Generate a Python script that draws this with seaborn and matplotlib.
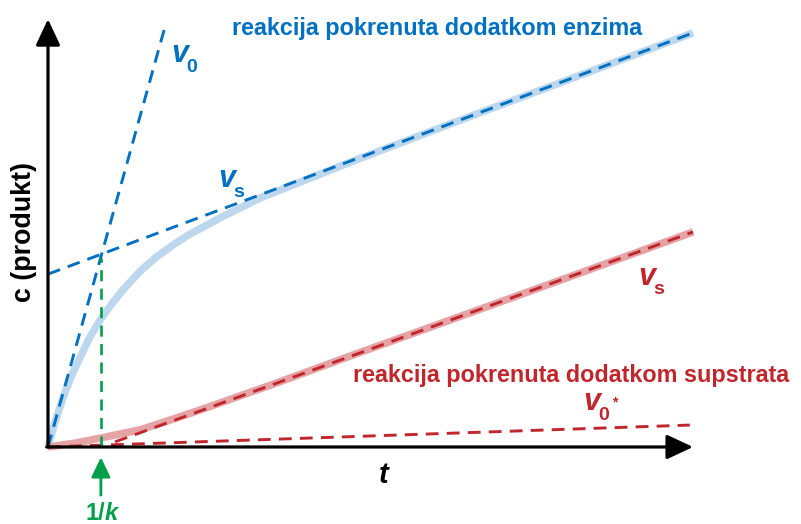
import matplotlib
matplotlib.use("Agg")
import matplotlib.pyplot as plt
import seaborn as sns

sns.set_theme(style="white")
plt.rcParams['font.family'] = ['Liberation Sans', 'DejaVu Sans']

# ---- data (t, c units) ----
blue_t = [0, 0.11, 0.26, 0.37, 0.50, 0.65, 0.82, 0.99, 1.16, 1.43, 1.69, 1.97,
          2.20, 2.71, 3.29, 3.91, 4.68, 6.23, 7.78, 10.0]
blue_c = [0, 0.58, 1.26, 1.67, 2.09, 2.56, 2.98, 3.33, 3.65, 4.09, 4.43, 4.73,
          4.95, 5.36, 5.79, 6.16, 6.62, 7.51, 8.38, 9.63]

red_t = [0, 0.42, 0.82, 1.11, 1.43, 1.74, 1.94, 2.20, 2.47, 2.98, 3.49, 4.02,
         4.84, 6.23, 7.78, 10.0]
red_c = [0, 0.09, 0.21, 0.30, 0.40, 0.55, 0.65, 0.78, 0.92, 1.19, 1.46, 1.75,
         2.20, 2.95, 3.79, 5.00]

blue_v0_t = [0, 1.83]
blue_v0_c = [0, 9.86]
blue_vs_t = [0, 10.0]
blue_vs_c = [4.02, 9.63]
red_vs_t = [1.04, 10.0]
red_vs_c = [0.12, 5.00]
red_v0_t = [0, 9.95]
red_v0_c = [0, 0.51]
inv_k = 0.82
green_c = [0, 4.40]

DBLUE = "#0070C0"
LBLUE = "#BDD7EE"
DRED = "#C0272D"
LRED = "#E6A3A6"
GREEN = "#00A04A"

fig = plt.figure(figsize=(8.01, 5.24), dpi=100)
ax = fig.add_axes([0, 0, 1, 1])
ax.set_xlim(-0.744, 11.674)
ax.set_ylim(-1.791, 10.395)
ax.axis('off')

# light curves
sns.lineplot(x=blue_t, y=blue_c, ax=ax, color=LBLUE, lw=5.4, sort=False,
             estimator=None, solid_capstyle='butt', solid_joinstyle='round', zorder=2)
sns.lineplot(x=red_t, y=red_c, ax=ax, color=LRED, lw=5.4, sort=False,
             estimator=None, solid_capstyle='butt', solid_joinstyle='round', zorder=2)

dash = (0, (4.4, 2.8))
for xs, ys, col in [(blue_v0_t, blue_v0_c, DBLUE), (blue_vs_t, blue_vs_c, DBLUE),
                    (red_vs_t, red_vs_c, DRED), (red_v0_t, red_v0_c, DRED)]:
    sns.lineplot(x=xs, y=ys, ax=ax, color=col, lw=2.1, linestyle=dash,
                 sort=False, estimator=None, zorder=3)

sns.lineplot(x=[inv_k, inv_k], y=green_c, ax=ax, color=GREEN, lw=1.9,
             linestyle=(0, (4.2, 2.8)), sort=False, estimator=None, zorder=3)

# axes arrows
ax.annotate('', xy=(0, 9.95), xytext=(0, 0),
            arrowprops=dict(arrowstyle='-|>,head_length=1.6,head_width=0.75',
                            mutation_scale=10, lw=2.3, color='black',
                            shrinkA=0, shrinkB=0), zorder=5)
ax.annotate('', xy=(10.0, 0), xytext=(-0.02, 0),
            arrowprops=dict(arrowstyle='-|>,head_length=1.6,head_width=0.75',
                            mutation_scale=10, lw=2.3, color='black',
                            shrinkA=0, shrinkB=0), zorder=5)
# green arrow at 1/k
ax.annotate('', xy=(inv_k, -0.24), xytext=(inv_k, -1.12),
            arrowprops=dict(arrowstyle='-|>,head_length=1.2,head_width=0.58',
                            mutation_scale=10, lw=2.0, color=GREEN,
                            shrinkA=0, shrinkB=0), zorder=5)

# texts
ax.text(2.853, 9.58, "reakcija pokrenuta dodatkom enzima", color=DBLUE,
        fontsize=16.8, fontweight='bold', ha='left', va='baseline')
ax.text(4.729, 1.512, "reakcija pokrenuta dodatkom supstrata", color=DRED,
        fontsize=16.8, fontweight='bold', ha='left', va='baseline')

def vlabel(x, y, sub, xs, ys, col, star=None):
    ax.text(x, y, "v", color=col, fontsize=22, fontweight='bold',
            fontstyle='italic', ha='left', va='baseline')
    ax.text(xs, ys, sub, color=col, fontsize=14, fontweight='bold',
            ha='left', va='baseline')
    if star is not None:
        ax.text(star[0], star[1], "*", color=col, fontsize=10,
                fontweight='bold', ha='left', va='baseline')

vlabel(1.907, 8.953, "0", 2.150, 8.721, DBLUE)
vlabel(2.636, 6.047, "s", 2.878, 5.814, DBLUE)
vlabel(9.147, 3.767, "s", 9.390, 3.558, DRED)
vlabel(8.295, 0.860, "0", 8.537, 0.628, DRED, star=(8.739, 0.953))

ax.text(5.209, -0.837, "t", fontsize=21, fontweight='bold', fontstyle='italic',
        ha='center', va='baseline', color='black')
ax.text(-0.372, 5.0, "c (produkt)", fontsize=19.3, fontweight='bold',
        rotation=90, ha='center', va='center', color='black')
ax.text(0.574, -1.70, "1/", fontsize=17, fontweight='bold', color=GREEN,
        ha='left', va='baseline')
ax.text(0.884, -1.70, "k", fontsize=17, fontweight='bold', fontstyle='italic',
        color=GREEN, ha='left', va='baseline')

fig.savefig("out.png", dpi=100)
